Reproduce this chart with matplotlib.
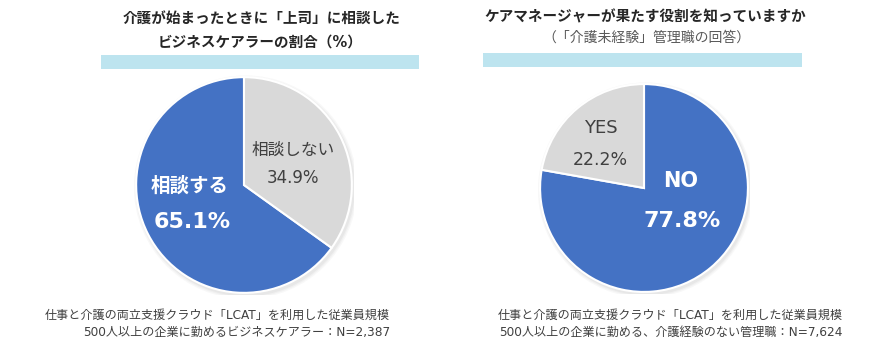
import matplotlib.pyplot as plt
from matplotlib.patches import Circle, Rectangle

plt.rcParams['font.family'] = ['DejaVu Sans', 'Noto Sans CJK JP']

# left chart: consulted the boss when care started
left_labels = ['相談する', '相談しない']
left_values = [65.1, 34.9]
# right chart: knows the role of a care manager
right_labels = ['NO', 'YES']
right_values = [77.8, 22.2]

BLUE = '#4472C4'
GRAY = '#D9D9D9'
BAND = '#BDE4EF'
DARK = '#404040'

W, H = 889, 358
fig = plt.figure(figsize=(W / 100, H / 100), dpi=100)


def fx(x):
    return x / W


def fy(y):
    return 1 - y / H


def pie_axes(cx, cy, r):
    ax = fig.add_axes([fx(cx - r), fy(cy + r), 2 * r / W, 2 * r / H])
    ax.axis('off')
    # soft shadow
    for i, a in enumerate([0.05, 0.06, 0.08]):
        ax.add_patch(Circle((0.015, -0.02), 1.0 + 0.012 * (3 - i), color='#7f7f7f',
                            alpha=a, lw=0, zorder=0))
    return ax


def finish(ax):
    ax.set_xlim(-1.02, 1.02)
    ax.set_ylim(-1.02, 1.02)
    ax.set_aspect('equal')


# left pie
ax1 = pie_axes(244, 185, 110)
ax1.pie(left_values, colors=[BLUE, GRAY], startangle=90, counterclock=True,
        wedgeprops=dict(edgecolor='white', linewidth=1.5))
finish(ax1)

# right pie
ax2 = pie_axes(644, 188, 106)
ax2.pie(right_values, colors=[BLUE, GRAY], startangle=90, counterclock=False,
        wedgeprops=dict(edgecolor='white', linewidth=1.5))
finish(ax2)

# bands under titles
fig.patches.append(Rectangle((fx(101), fy(69)), fx(419) - fx(101), (69 - 55) / H,
                             transform=fig.transFigure, color=BAND, lw=0))
fig.patches.append(Rectangle((fx(483), fy(67)), fx(802) - fx(483), (67 - 53) / H,
                             transform=fig.transFigure, color=BAND, lw=0))

# titles
fig.text(fx(262), fy(18), '介護が始まったときに「上司」に相談した', ha='center', va='center',
         fontsize=10.5, fontweight='bold', color='#262626')
fig.text(fx(260), fy(42), 'ビジネスケアラーの割合（%）', ha='center', va='center',
         fontsize=10.5, fontweight='bold', color='#262626')
fig.text(fx(645), fy(17), 'ケアマネージャーが果たす役割を知っていますか', ha='center', va='center',
         fontsize=10.5, fontweight='bold', color='#262626')
fig.text(fx(646), fy(38), '（「介護未経験」管理職の回答）', ha='center', va='center',
         fontsize=10, color='#595959')

# slice labels
fig.text(fx(190), fy(186), left_labels[0], ha='center', va='center',
         fontsize=14, fontweight='bold', color='white')
fig.text(fx(192), fy(222), f'{left_values[0]:.1f}%', ha='center', va='center',
         fontsize=16, fontweight='bold', color='white')
fig.text(fx(293), fy(150), left_labels[1], ha='center', va='center',
         fontsize=12, color=DARK)
fig.text(fx(293), fy(178), f'{left_values[1]:.1f}%', ha='center', va='center',
         fontsize=12, color=DARK)

fig.text(fx(681), fy(181), right_labels[0], ha='center', va='center',
         fontsize=15, fontweight='bold', color='white')
fig.text(fx(682), fy(221), f'{right_values[0]:.1f}%', ha='center', va='center',
         fontsize=16, fontweight='bold', color='white')
fig.text(fx(601), fy(128), right_labels[1], ha='center', va='center',
         fontsize=13, color=DARK)
fig.text(fx(600), fy(160), f'{right_values[1]:.1f}%', ha='center', va='center',
         fontsize=12.5, color=DARK)

# footnotes
fig.text(fx(390), fy(315), '仕事と介護の両立支援クラウド「LCAT」を利用した従業員規模',
         ha='right', va='center', fontsize=8.7, color=DARK)
fig.text(fx(390), fy(332), '500人以上の企業に勤めるビジネスケアラー：N=2,387',
         ha='right', va='center', fontsize=8.7, color=DARK)
fig.text(fx(843), fy(315), '仕事と介護の両立支援クラウド「LCAT」を利用した従業員規模',
         ha='right', va='center', fontsize=8.7, color=DARK)
fig.text(fx(843), fy(332), '500人以上の企業に勤める、介護経験のない管理職：N=7,624',
         ha='right', va='center', fontsize=8.7, color=DARK)

fig.savefig('out.png', dpi=100)
